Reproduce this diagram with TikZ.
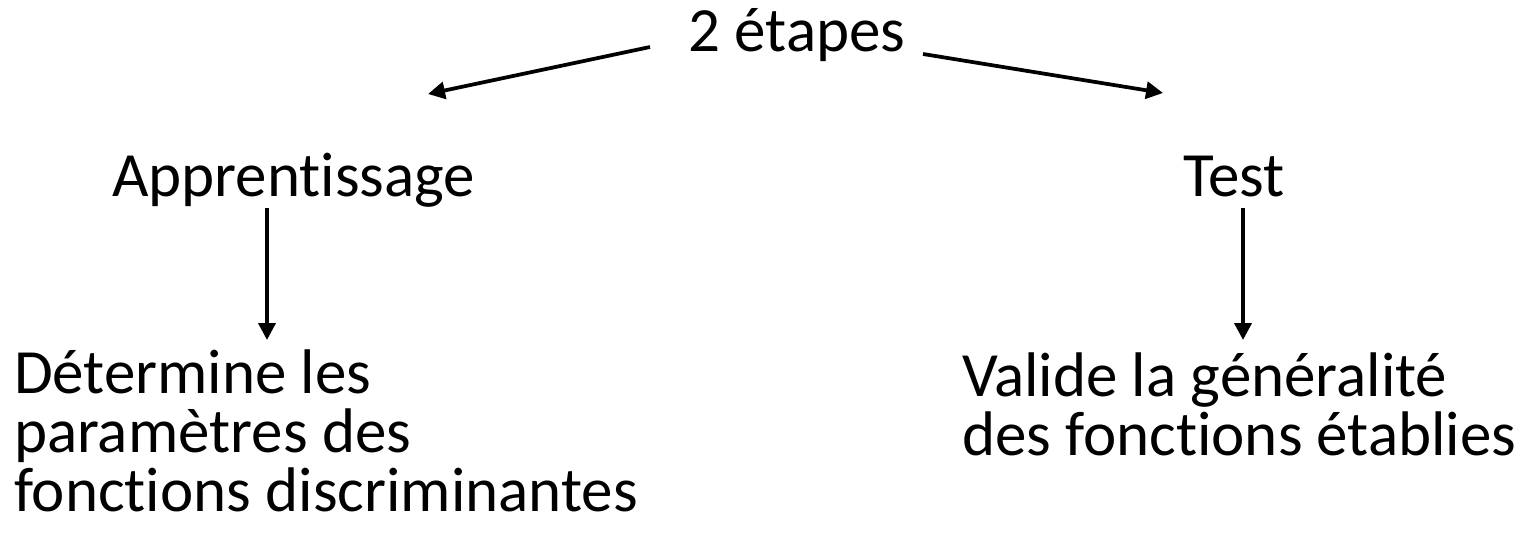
\documentclass[tikz,border=0pt]{standalone}
\usepackage{fontspec}
\setmainfont{Carlito}[RawFeature=-liga]
\usepackage{tikz}
\usetikzlibrary{arrows.meta}
\definecolor{inkblack}{RGB}{0, 0, 0}

\begin{document}
\begin{tikzpicture}[x=0.02cm, y=-0.02cm,
        txt/.style={inner sep=0pt, outer sep=0pt, text=inkblack,
            font=\fontsize{35.86pt}{33.4pt}\selectfont},
        arr/.style={-{Triangle[length=0.34cm, width=0.34cm]}, line width=0.075cm, inkblack}]
        \useasboundingbox (0,0) rectangle (1537,550);

        % titre
        \node[txt, anchor=base] (etapes) at (797,52) {2 étapes};

        % les deux étapes
        \node[txt, anchor=base west] (appr) at (112,197) {Apprentissage};
        \node[txt, anchor=base west] (test) at (1183,197) {Test};

        % descriptions (ancre sur la dernière ligne)
        \node[txt, anchor=base west, align=left] (det) at (14,511)
            {Détermine les\\paramètres des\\fonctions discriminantes};
        \node[txt, anchor=base west, align=left] (val) at (962,455)
            {Valide la généralité\\des fonctions établies};

        % flèches
        \coordinate (leftStart) at (650,47);
        \coordinate (leftTip) at (428,94);
        \coordinate (rightStart) at (923,54);
        \coordinate (rightTip) at (1163,93);
        \coordinate (apprTip) at (267,340);
        \coordinate (testTip) at (1243,340);
        \draw[arr] (leftStart) -- (leftTip);
        \draw[arr] (rightStart) -- (rightTip);
        \draw[arr] (appr.south -| apprTip) -- (apprTip);
        \draw[arr] (appr.south -| testTip) -- (testTip);
    \end{tikzpicture}
\end{document}
